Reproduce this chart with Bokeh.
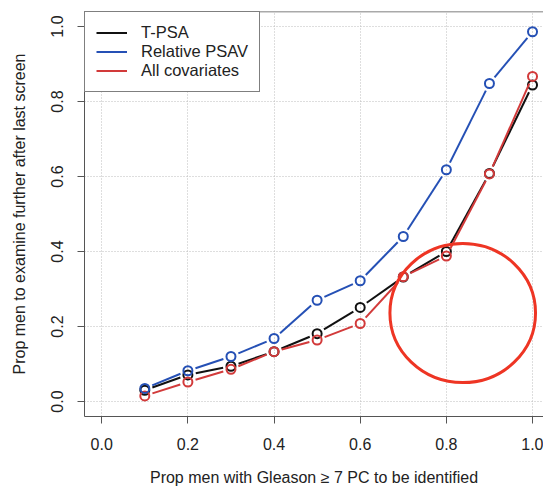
import numpy as np
from bokeh.plotting import figure
from bokeh.models import (FixedTicker, NumeralTickFormatter, Legend, LegendItem,
                          Span, ColumnDataSource)
from bokeh.embed import file_html
from bokeh.resources import INLINE

# ---- data ----
x_vals = [0.1, 0.2, 0.3, 0.4, 0.5, 0.6, 0.7, 0.8, 0.9, 1.0]
tpsa = [0.030, 0.071, 0.094, 0.133, 0.181, 0.251, 0.332, 0.400, 0.608, 0.844]
rel_psav = [0.035, 0.082, 0.120, 0.168, 0.270, 0.322, 0.440, 0.618, 0.848, 0.986]
all_cov = [0.015, 0.052, 0.086, 0.133, 0.164, 0.208, 0.333, 0.388, 0.607, 0.867]
series_names = ["T-PSA", "Relative PSAV", "All covariates"]
ticks = [0.0, 0.2, 0.4, 0.6, 0.8, 1.0]

# annotation ellipse (data units)
ann_cx, ann_cy, ann_w, ann_h = 0.838, 0.236, 0.338, 0.371

BLACK = "#111111"
BLUE = "#2550B5"
RED = "#D23A3A"
ANN_RED = "#EE3524"
AXIS = "#555555"
TXT = "#222222"
FONT = "Liberation Sans"

W, H = 543, 493
BL, BR, BT, BB = 84, 0, 11, 77
X0, X1 = -0.04, 1.0255
Y0, Y1 = -0.04, 1.04

p = figure(width=W, height=H, x_range=(X0, X1), y_range=(Y0, Y1),
           output_backend="svg", toolbar_location=None,
           min_border_left=BL, min_border_right=BR,
           min_border_top=BT, min_border_bottom=BB)
p.outline_line_color = None
p.background_fill_color = "white"
p.border_fill_color = "white"

for ax in (p.xaxis[0], p.yaxis[0]):
    ax.ticker = FixedTicker(ticks=ticks)
    ax.formatter = NumeralTickFormatter(format="0.0")
    ax.axis_line_color = AXIS
    ax.major_tick_line_color = AXIS
    ax.minor_tick_line_color = None
    ax.major_tick_in = 0
    ax.major_tick_out = 7
    ax.major_label_text_font = FONT
    ax.major_label_text_font_size = "16px"
    ax.major_label_text_color = TXT
    ax.axis_label_text_font = FONT
    ax.axis_label_text_font_size = "16px"
    ax.axis_label_text_font_style = "normal"
    ax.axis_label_text_color = TXT

p.xaxis.axis_label = "Prop men with Gleason \u2265 7 PC to be identified"
p.yaxis.axis_label = "Prop men to examine further after last screen"
p.yaxis.major_label_orientation = "vertical"
p.xaxis.major_label_standoff = 14
p.yaxis.major_label_standoff = 15
p.xaxis.axis_label_standoff = 16
p.yaxis.axis_label_standoff = 20

for g in (p.xgrid[0], p.ygrid[0]):
    g.ticker = FixedTicker(ticks=ticks)
    g.grid_line_color = "#bdbdbd"
    g.grid_line_dash = "1 2"
    g.grid_line_width = 1

p.add_layout(Span(location=Y1, dimension="width", line_color=AXIS, line_width=1.5))

# pixel scales for the R-style "b" line gaps
sx = (W - BL - BR) / (X1 - X0)
sy = (H - BT - BB) / (Y1 - Y0)
GAP = 8.0


def gapped(xs, ys):
    x0s, y0s, x1s, y1s = [], [], [], []
    for i in range(len(xs) - 1):
        dx = (xs[i + 1] - xs[i]) * sx
        dy = (ys[i + 1] - ys[i]) * sy
        L = float(np.hypot(dx, dy))
        if L <= 2 * GAP:
            continue
        t = GAP / L
        x0s.append(xs[i] + (xs[i + 1] - xs[i]) * t)
        y0s.append(ys[i] + (ys[i + 1] - ys[i]) * t)
        x1s.append(xs[i + 1] - (xs[i + 1] - xs[i]) * t)
        y1s.append(ys[i + 1] - (ys[i + 1] - ys[i]) * t)
    return dict(x0=x0s, y0=y0s, x1=x1s, y1=y1s)


seg_by_name = {}
# draw order: black, red, blue (blue on top as in the reference)
for name, ys, col in [(series_names[0], tpsa, BLACK),
                      (series_names[2], all_cov, RED),
                      (series_names[1], rel_psav, BLUE)]:
    seg = p.segment(x0="x0", y0="y0", x1="x1", y1="y1",
                    source=ColumnDataSource(gapped(x_vals, ys)),
                    line_color=col, line_width=2)
    p.scatter(x=x_vals, y=ys, size=9, marker="circle", fill_color=None,
              line_color=col, line_width=2)
    seg_by_name[name] = seg

items = [LegendItem(label=n, renderers=[seg_by_name[n]]) for n in series_names]

p.ellipse(x=[ann_cx], y=[ann_cy], width=[ann_w], height=[ann_h],
          fill_color=None, line_color=ANN_RED, line_width=3)

legend = Legend(items=items, location="top_left", margin=0, padding=11,
                spacing=0, glyph_width=31, glyph_height=19, label_height=19,
                label_standoff=14, border_line_color="black", border_line_width=1,
                label_text_font=FONT, label_text_font_size="16.5px",
                label_text_color=TXT, background_fill_alpha=1)
p.add_layout(legend)

open("out.html", "w").write(file_html(p, INLINE))
